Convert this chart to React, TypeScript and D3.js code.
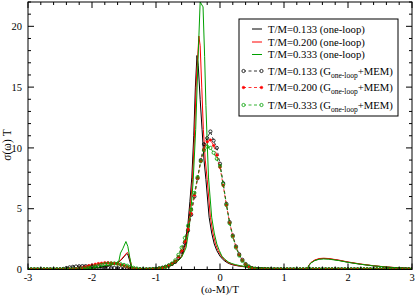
import React from "react";
import * as d3 from "d3";

const W = 415;
const H = 295;

// ---- axis ticks ----
const xMajorTicks = [-3, -2, -1, 0, 1, 2, 3];
const yMajorTicks = [0, 5, 10, 15, 20];

// ---- one-loop curves: [x, sigma*T] ----
const oneLoop0133: [number, number][] = [
  [-3, 0.02], [-2.6, 0.03], [-2.3, 0.05], [-2.1, 0.08], [-2.0, 0.1], [-1.9, 0.15], [-1.8, 0.24],
  [-1.7, 0.36], [-1.6, 0.55], [-1.55, 0.75], [-1.5, 1.05], [-1.46, 1.3], [-1.44, 1.25], [-1.41, 0.7],
  [-1.38, 0.08], [-1.35, 0.03], [-1.2, 0.04], [-1.1, 0.07], [-1.0, 0.11], [-0.9, 0.2], [-0.8, 0.32],
  [-0.73, 0.5], [-0.66, 0.78], [-0.6, 1.1], [-0.55, 2.0], [-0.5, 3.8], [-0.47, 5.6], [-0.44, 7.6],
  [-0.41, 11.0], [-0.385, 15.0], [-0.36, 17.6], [-0.34, 16.8], [-0.31, 14.0], [-0.28, 11.5],
  [-0.25, 9.0], [-0.22, 7.4], [-0.17, 4.3], [-0.13, 3.0], [-0.09, 2.1], [-0.05, 1.55], [0, 1.1],
  [0.05, 0.8], [0.1, 0.6], [0.15, 0.47], [0.2, 0.38], [0.3, 0.28], [0.4, 0.21], [0.5, 0.16],
  [0.7, 0.1], [1.0, 0.06], [1.2, 0.04], [1.37, 0.03], [1.385, 0.3], [1.42, 0.55], [1.48, 0.75],
  [1.55, 0.87], [1.62, 0.9], [1.7, 0.88], [1.85, 0.76], [2.0, 0.6], [2.2, 0.43], [2.4, 0.3],
  [2.6, 0.2], [2.8, 0.13], [3.0, 0.08],
];
const oneLoop0200: [number, number][] = [
  [-3, 0.02], [-2.6, 0.03], [-2.3, 0.05], [-2.1, 0.08], [-2.0, 0.11], [-1.9, 0.16], [-1.8, 0.26],
  [-1.7, 0.38], [-1.6, 0.56], [-1.55, 0.78], [-1.5, 1.1], [-1.45, 1.4], [-1.43, 1.3], [-1.4, 0.7],
  [-1.37, 0.08], [-1.34, 0.03], [-1.2, 0.04], [-1.1, 0.06], [-1.0, 0.1], [-0.9, 0.18], [-0.8, 0.3],
  [-0.73, 0.47], [-0.66, 0.74], [-0.6, 1.05], [-0.54, 1.9], [-0.49, 3.7], [-0.46, 5.4], [-0.43, 7.4],
  [-0.4, 10.8], [-0.37, 15.5], [-0.33, 19.2], [-0.31, 18.4], [-0.285, 15.0], [-0.26, 11.5],
  [-0.23, 9.0], [-0.2, 7.4], [-0.15, 4.3], [-0.11, 3.0], [-0.07, 2.1], [-0.03, 1.55], [0.02, 1.1],
  [0.07, 0.8], [0.12, 0.6], [0.17, 0.47], [0.22, 0.38], [0.3, 0.3], [0.4, 0.22], [0.5, 0.16],
  [0.7, 0.1], [1.0, 0.06], [1.2, 0.05], [1.37, 0.04], [1.385, 0.32], [1.42, 0.57], [1.48, 0.78],
  [1.55, 0.9], [1.62, 0.93], [1.7, 0.9], [1.85, 0.78], [2.0, 0.62], [2.2, 0.45], [2.4, 0.31],
  [2.6, 0.21], [2.8, 0.14], [3.0, 0.09],
];
const oneLoop0333: [number, number][] = [
  [-3, 0.02], [-2.6, 0.03], [-2.3, 0.05], [-2.1, 0.09], [-2.0, 0.12], [-1.9, 0.18], [-1.8, 0.28],
  [-1.7, 0.4], [-1.62, 0.55], [-1.58, 0.7], [-1.555, 1.35], [-1.52, 1.7], [-1.47, 2.3], [-1.44, 1.9],
  [-1.41, 1.0], [-1.38, 0.2], [-1.35, 0.04], [-1.2, 0.03], [-1.1, 0.05], [-1.0, 0.08], [-0.9, 0.15],
  [-0.8, 0.27], [-0.73, 0.42], [-0.66, 0.68], [-0.6, 1.0], [-0.53, 1.8], [-0.48, 3.5], [-0.45, 5.2],
  [-0.42, 7.2], [-0.38, 11.5], [-0.345, 17.0], [-0.31, 22.0], [-0.265, 21.6], [-0.24, 17.5],
  [-0.22, 13.5], [-0.2, 10.5], [-0.18, 7.6], [-0.13, 4.3], [-0.09, 3.0], [-0.05, 2.1], [-0.01, 1.55],
  [0.03, 1.1], [0.08, 0.82], [0.13, 0.62], [0.18, 0.5], [0.24, 0.4], [0.32, 0.31], [0.4, 0.24],
  [0.5, 0.18], [0.7, 0.11], [1.0, 0.06], [1.2, 0.05], [1.37, 0.04], [1.385, 0.3], [1.42, 0.53],
  [1.48, 0.73], [1.55, 0.84], [1.62, 0.87], [1.7, 0.85], [1.85, 0.74], [2.0, 0.59], [2.2, 0.43],
  [2.4, 0.3], [2.6, 0.2], [2.8, 0.13], [3.0, 0.08],
];

// ---- G(one-loop)+MEM reconstructions, sampled on x = -3, -2.95, ..., 3 ----
const memStart = -3;
const memStep = 0.05;
const mem0133 = [
  0.02, 0.02, 0.02, 0.02, 0.02, 0.02, 0.02, 0.02, 0.02, 0.02, 0.02,
  0.05, 0.12, 0.18, 0.22, 0.25, 0.27, 0.28, 0.28, 0.26, 0.24,
  0.22, 0.2, 0.18, 0.16, 0.15, 0.14, 0.13, 0.12, 0.1, 0.08,
  0.06, 0.04, 0.03, 0.02, 0.02, 0.02, 0.02, 0.03, 0.04, 0.06,
  0.1, 0.15, 0.23, 0.33, 0.45, 0.62, 0.95, 1.45, 2.2, 3.2,
  4.5, 6.0, 7.5, 9.0, 10.3, 10.8, 11.35, 10.6, 10.0, 8.7,
  7.1, 5.4, 3.9, 2.8, 1.9, 1.25, 0.8, 0.45, 0.25, 0.12,
  0.07, 0.05,
  0.03, 0.03, 0.03, 0.03, 0.03, 0.03, 0.03, 0.03, 0.02, 0.02, 0.02, 0.02,
  0.02, 0.02, 0.02, 0.02, 0.02, 0.02, 0.02, 0.02, 0.02, 0.02, 0.02, 0.02,
  0.02, 0.02, 0.02, 0.02, 0.02, 0.02, 0.02, 0.02, 0.02, 0.02, 0.02, 0.02,
  0.02, 0.02, 0.02, 0.02, 0.02, 0.02, 0.02, 0.02, 0.02, 0.02, 0.02, 0.02,
];
const mem0200 = [
  0.02, 0.02, 0.02, 0.02, 0.02, 0.02, 0.02, 0.02, 0.02, 0.02, 0.02,
  0.02, 0.03, 0.03, 0.04, 0.06, 0.1, 0.15, 0.22, 0.3, 0.37,
  0.43, 0.48, 0.52, 0.55, 0.56, 0.54, 0.5, 0.45, 0.38, 0.3,
  0.22, 0.14, 0.08, 0.04, 0.02, 0.01, 0.01, 0.02, 0.03, 0.05,
  0.08, 0.13, 0.21, 0.32, 0.47, 0.68, 1.05, 1.55, 2.3, 3.3,
  4.6, 6.1, 7.5, 8.9, 9.9, 10.5, 10.65, 10.2, 9.4, 8.4,
  6.9, 5.3, 3.85, 2.75, 1.85, 1.2, 0.75, 0.42, 0.22, 0.11,
  0.06, 0.04,
  0.02, 0.02, 0.02, 0.02, 0.02, 0.02, 0.02, 0.02, 0.02, 0.02, 0.02, 0.02,
  0.02, 0.02, 0.02, 0.02, 0.02, 0.02, 0.02, 0.02, 0.02, 0.02, 0.02, 0.02,
  0.02, 0.02, 0.02, 0.02, 0.02, 0.02, 0.02, 0.02, 0.02, 0.02, 0.02, 0.02,
  0.02, 0.02, 0.02, 0.02, 0.02, 0.02, 0.02, 0.02, 0.02, 0.02, 0.02, 0.02,
];
const mem0333 = [
  0.02, 0.02, 0.02, 0.02, 0.02, 0.02, 0.02, 0.02, 0.02, 0.02, 0.02,
  0.02, 0.02, 0.02, 0.02, 0.02, 0.04, 0.06, 0.1, 0.14, 0.2,
  0.26, 0.32, 0.38, 0.44, 0.48, 0.5, 0.5, 0.47, 0.43, 0.38,
  0.31, 0.22, 0.14, 0.08, 0.04, 0.02, 0.01, 0.02, 0.03, 0.05,
  0.08, 0.13, 0.21, 0.33, 0.5, 0.75, 1.2, 1.8, 2.6, 3.6,
  4.9, 6.3, 7.6, 8.9, 9.8, 10.1, 10.0, 9.6, 9.1, 8.5,
  7.0, 5.3, 3.8, 2.7, 1.8, 1.15, 0.7, 0.4, 0.22, 0.1,
  0.05, 0.03,
  0.02, 0.02, 0.02, 0.02, 0.02, 0.02, 0.02, 0.02, 0.02, 0.02, 0.02, 0.02,
  0.02, 0.02, 0.02, 0.02, 0.02, 0.02, 0.02, 0.02, 0.02, 0.02, 0.02, 0.02,
  0.02, 0.02, 0.02, 0.02, 0.02, 0.02, 0.02, 0.02, 0.02, 0.02, 0.02, 0.02,
  0.02, 0.02, 0.02, 0.02, 0.02, 0.02, 0.02, 0.02, 0.02, 0.02, 0.02, 0.02,
];

const BLACK = "#000000";
const RED = "#ff0000";
const GREEN = "#00a000";

const solidSeries = [
  { label: "T/M=0.133 (one-loop)", color: BLACK, data: oneLoop0133 },
  { label: "T/M=0.200 (one-loop)", color: RED, data: oneLoop0200 },
  { label: "T/M=0.333 (one-loop)", color: GREEN, data: oneLoop0333 },
];
const memSeries = [
  { label: "T/M=0.133 (G", color: BLACK, values: mem0133, filled: false },
  { label: "T/M=0.200 (G", color: RED, values: mem0200, filled: true },
  { label: "T/M=0.333 (G", color: GREEN, values: mem0333, filled: false },
];

const FONT = "'Liberation Serif', 'DejaVu Serif', serif";

export default function App() {
  const left = 28, right = 412, top = 2, bottom = 269.5;
  const x = d3.scaleLinear().domain([-3, 3]).range([left, right]);
  const y = d3.scaleLinear().domain([0, 22]).range([bottom, top]);

  const line = d3
    .line<[number, number]>()
    .x((d) => x(d[0]))
    .y((d) => y(d[1]))
    .curve(d3.curveLinear);

  const memPts = (vals: number[]): [number, number][] =>
    vals.map((v, i) => [memStart + i * memStep, v]);

  const xMinor = d3.range(-3, 3.0001, 0.2).filter((v) => Math.abs(v - Math.round(v)) > 1e-6);
  const yMinor = d3.range(0, 22.0001, 1).filter((v) => v % 5 !== 0);
  const MAJ = 6, MIN = 3;

  const legX0 = 239, legY0 = 19, legW = 159, legH = 97;
  const rowsSolid = [29, 42, 54.5];
  const rowsMem = [71, 87.5, 105];

  return (
    <svg width={W} height={H} style={{ position: "absolute", left: 0, top: 0, background: "#fff" }}>
      <defs>
        <clipPath id="plotclip">
          <rect x={left} y={top} width={right - left} height={bottom - top} />
        </clipPath>
      </defs>
      {/* data */}
      <g clipPath="url(#plotclip)">
        {solidSeries.map((s) => (
          <path key={s.label} d={line(s.data) || ""} fill="none" stroke={s.color} strokeWidth={1} />
        ))}
        {memSeries.map((s, k) => {
          const pts = memPts(s.values);
          return (
            <g key={k}>
              <path d={line(pts) || ""} fill="none" stroke={s.color} strokeWidth={0.8} strokeDasharray="3,2.5" />
              {pts.map((p, i) => (
                <circle
                  key={i}
                  cx={x(p[0])}
                  cy={y(p[1])}
                  r={s.filled ? 1.3 : 1.6}
                  fill={s.filled ? s.color : "none"}
                  stroke={s.color}
                  strokeWidth={s.filled ? 0.5 : 0.8}
                />
              ))}
            </g>
          );
        })}
      </g>

      {/* frame */}
      <rect x={left} y={top} width={right - left} height={bottom - top} fill="none" stroke="#000" strokeWidth={1} />

      {/* ticks */}
      <g stroke="#000" strokeWidth={1}>
        {xMajorTicks.map((t) => (
          <g key={"xm" + t}>
            <line x1={x(t)} x2={x(t)} y1={bottom} y2={bottom - MAJ} />
            <line x1={x(t)} x2={x(t)} y1={top} y2={top + MAJ} />
          </g>
        ))}
        {xMinor.map((t, i) => (
          <g key={"xn" + i}>
            <line x1={x(t)} x2={x(t)} y1={bottom} y2={bottom - MIN} />
            <line x1={x(t)} x2={x(t)} y1={top} y2={top + MIN} />
          </g>
        ))}
        {yMajorTicks.map((t) => (
          <g key={"ym" + t}>
            <line x1={left} x2={left + MAJ} y1={y(t)} y2={y(t)} />
            <line x1={right} x2={right - MAJ} y1={y(t)} y2={y(t)} />
          </g>
        ))}
        {yMinor.map((t, i) => (
          <g key={"yn" + i}>
            <line x1={left} x2={left + MIN} y1={y(t)} y2={y(t)} />
            <line x1={right} x2={right - MIN} y1={y(t)} y2={y(t)} />
          </g>
        ))}
      </g>

      {/* tick labels */}
      <g fontFamily={FONT} fontSize={10.5} fill="#000">
        {xMajorTicks.map((t) => (
          <text key={"xl" + t} x={x(t)} y={281} textAnchor="middle">
            {t < 0 ? "-" + Math.abs(t) : String(t)}
          </text>
        ))}
        {yMajorTicks.map((t) => (
          <text key={"yl" + t} x={22} y={y(t) + 3.6} textAnchor="end">
            {String(t)}
          </text>
        ))}
      </g>

      {/* axis titles */}
      <text x={220} y={293} textAnchor="middle" fontFamily={FONT} fontSize={11}>
        (ω-M)/T
      </text>
      <text
        transform={`translate(11,${145}) rotate(-90)`}
        textAnchor="middle"
        fontFamily={FONT}
        fontSize={11.5}
      >
        σ(ω) T
      </text>

      {/* legend */}
      <rect x={legX0} y={legY0} width={legW} height={legH} fill="#fff" stroke="#000" strokeWidth={1} />
      <g fontFamily={FONT} fontSize={10.7}>
        {solidSeries.map((s, i) => (
          <g key={"ls" + i}>
            <line x1={252} x2={262} y1={rowsSolid[i]} y2={rowsSolid[i]} stroke={s.color} strokeWidth={1} />
            <text x={268} y={rowsSolid[i] + 3.6}>{s.label}</text>
          </g>
        ))}
        {memSeries.map((s, i) => {
          const yy = rowsMem[i];
          return (
            <g key={"lm" + i}>
              <line x1={243} x2={262} y1={yy} y2={yy} stroke={s.color} strokeWidth={0.8} strokeDasharray="3,2.5" />
              {[243.5, 261.5].map((cx) => (
                <circle
                  key={cx}
                  cx={cx}
                  cy={yy}
                  r={s.filled ? 1.3 : 1.6}
                  fill={s.filled ? s.color : "#fff"}
                  stroke={s.color}
                  strokeWidth={s.filled ? 0.5 : 0.8}
                />
              ))}
              <text x={268} y={yy + 3.6}>
                {s.label}
                <tspan fontSize={7.5} dy={3}>one-loop</tspan>
                <tspan dy={-3}>+MEM)</tspan>
              </text>
            </g>
          );
        })}
      </g>
    </svg>
  );
}
